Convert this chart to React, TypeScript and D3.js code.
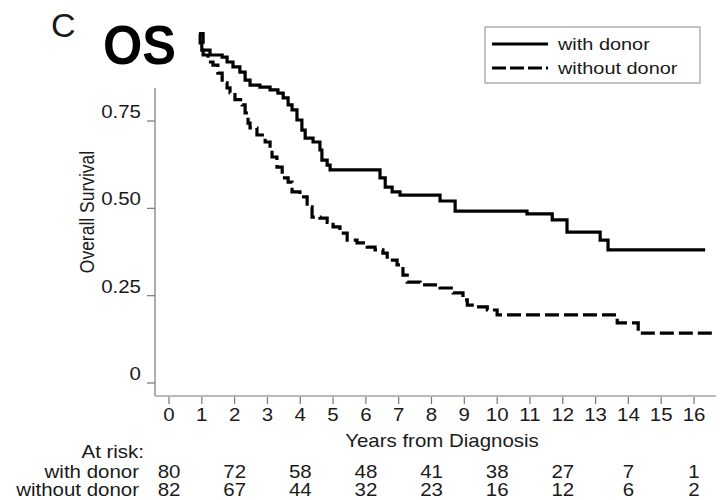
import React from "react";
import * as d3 from "d3";

// ---- data ----
const yearTicks = d3.range(0, 17);
const survTicks = [0, 0.25, 0.5, 0.75];
const survTickLabels = ["0", "0.25", "0.50", "0.75"];

const withDonorT = [0.92, 0.95, 1.0, 1.25, 1.62, 1.77, 1.95, 2.16, 2.32, 2.47, 2.77, 3.08, 3.32, 3.48, 3.63, 3.75, 3.9, 4.05, 4.15, 4.39, 4.6, 4.66, 4.82, 4.91, 6.43, 6.59, 6.8, 7.04, 8.26, 8.72, 10.91, 11.68, 12.13, 13.14, 13.38, 16.34];
const withDonorS = [1.0, 0.974, 0.953, 0.939, 0.933, 0.919, 0.905, 0.89, 0.867, 0.853, 0.847, 0.839, 0.83, 0.816, 0.796, 0.782, 0.753, 0.724, 0.701, 0.69, 0.667, 0.638, 0.624, 0.61, 0.587, 0.561, 0.547, 0.538, 0.521, 0.492, 0.484, 0.467, 0.432, 0.409, 0.381, 0.381];

const withoutDonorT = [0.92, 1.04, 1.19, 1.34, 1.49, 1.62, 1.77, 1.86, 2.01, 2.23, 2.32, 2.41, 2.47, 2.68, 2.93, 3.08, 3.14, 3.29, 3.45, 3.63, 3.75, 3.99, 4.21, 4.36, 4.6, 4.82, 5.0, 5.21, 5.43, 5.73, 6.04, 6.28, 6.52, 6.65, 6.95, 7.13, 7.26, 7.65, 8.26, 8.66, 8.96, 9.09, 9.33, 9.7, 10.0, 13.66, 14.3, 16.59];
const withoutDonorS = [1.0, 0.939, 0.919, 0.91, 0.887, 0.859, 0.845, 0.831, 0.811, 0.796, 0.773, 0.744, 0.73, 0.71, 0.69, 0.667, 0.647, 0.618, 0.587, 0.575, 0.547, 0.533, 0.504, 0.475, 0.472, 0.46, 0.447, 0.429, 0.409, 0.401, 0.389, 0.381, 0.372, 0.352, 0.338, 0.309, 0.289, 0.281, 0.272, 0.258, 0.238, 0.223, 0.218, 0.209, 0.195, 0.172, 0.143, 0.143];

const riskYears = [0, 2, 4, 6, 8, 10, 12, 14, 16];
const riskWith = [80, 72, 58, 48, 41, 38, 27, 7, 1];
const riskWithout = [82, 67, 44, 32, 23, 16, 12, 6, 2];

const FONT = "'Liberation Sans', Arial, sans-serif";
const TXT = "#1a1a1a";
const SX = 1.17;

function T({ x, y, anchor = "start", size = 17.5, children }: any) {
  return (
    <text
      transform={`translate(${x},${y}) scale(${SX},1)`}
      textAnchor={anchor}
      fontFamily={FONT}
      fontSize={size}
      fill={TXT}
    >
      {children}
    </text>
  );
}

export default function App() {
  const x = d3.scaleLinear().domain([0, 16]).range([169, 694]);
  const y = d3.scaleLinear().domain([0, 1]).range([383, 33.7]);
  const line = d3
    .line<[number, number]>()
    .x((d) => x(d[0]))
    .y((d) => y(d[1]))
    .curve(d3.curveStepAfter);
  const withPts = withDonorT.map((t, i) => [t, withDonorS[i]] as [number, number]);
  const withoutPts = withoutDonorT.map((t, i) => [t, withoutDonorS[i]] as [number, number]);

  return (
    <svg
      width={720}
      height={500}
      style={{ position: "absolute", left: 0, top: 0, background: "#fff" }}
    >
      {/* panel labels */}
      <text x={51} y={37} fontFamily={FONT} fontSize={34} fill={TXT}>C</text>
      <text x={103} y={64} fontFamily={FONT} fontSize={55} fontWeight="bold" fill="#000" textLength={73} lengthAdjust="spacingAndGlyphs">OS</text>

      {/* y axis */}
      <line x1={155} x2={155} y1={88} y2={396} stroke="#777" strokeWidth={1.2} />
      {survTicks.map((s, i) => (
        <g key={s}>
          <line x1={147} x2={155} y1={y(s)} y2={y(s)} stroke="#777" strokeWidth={1.2} />
          <T x={141} y={y(s) - 3} anchor="end">{survTickLabels[i]}</T>
        </g>
      ))}
      <text
        transform={`translate(94,212) rotate(-90) scale(1,${SX})`}
        textAnchor="middle"
        fontFamily={FONT}
        fontSize={17.5}
        fill={TXT}
      >
        Overall Survival
      </text>

      {/* bottom line and x axis */}
      <line x1={155} x2={716} y1={396} y2={396} stroke="#777" strokeWidth={1.2} />
      {yearTicks.map((t) => (
        <g key={t}>
          <line x1={x(t)} x2={x(t)} y1={397} y2={404} stroke="#777" strokeWidth={1.2} />
          <T x={x(t)} y={421} anchor="middle">{t}</T>
        </g>
      ))}
      <T x={442} y={447} anchor="middle">Years from Diagnosis</T>

      {/* at risk table */}
      <T x={144} y={458} anchor="end">At risk:</T>
      <T x={139} y={478} anchor="end">with donor</T>
      <T x={139} y={496} anchor="end">without donor</T>
      {riskYears.map((t, i) => (
        <g key={t}>
          <T x={x(t)} y={478} anchor="middle">{riskWith[i]}</T>
          <T x={x(t)} y={496} anchor="middle">{riskWithout[i]}</T>
        </g>
      ))}

      {/* curves */}
      <path d={line(withPts) || ""} fill="none" stroke="#000" strokeWidth={3.2} />
      <path
        d={line(withoutPts) || ""}
        fill="none"
        stroke="#000"
        strokeWidth={3.2}
        strokeDasharray="14 5"
      />

      {/* legend */}
      <rect x={485} y={27} width={215} height={56} fill="#fff" stroke="#888" strokeWidth={1} />
      <line x1={492} x2={548} y1={44} y2={44} stroke="#000" strokeWidth={3.2} />
      <line x1={492} x2={548} y1={68} y2={68} stroke="#000" strokeWidth={3.2} strokeDasharray="14 4" />
      <T x={558} y={50} size={17}>with donor</T>
      <T x={558} y={74} size={17}>without donor</T>
    </svg>
  );
}
